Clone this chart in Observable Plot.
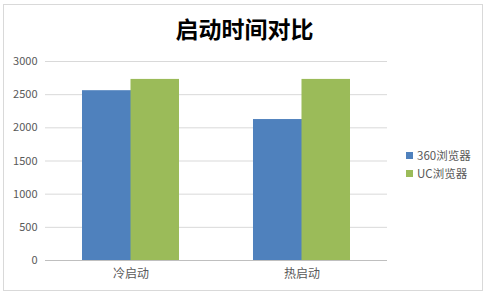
<!DOCTYPE html>
<html><head><meta charset="utf-8">
<script src="https://cdn.jsdelivr.net/npm/d3@7"></script>
<script src="https://cdn.jsdelivr.net/npm/@observablehq/plot@0.6"></script>
<style>
body{margin:0;background:#fff;}
#wrap{position:relative;width:489px;height:298px;font-family:"Noto Sans CJK SC","Noto Sans",sans-serif;}
#frame{position:absolute;left:3px;top:4px;width:480px;height:287px;border:1px solid #d9d9d9;box-sizing:border-box;}
#title{position:absolute;left:0;width:489px;top:11px;text-align:center;font-size:23px;font-weight:bold;color:#000;line-height:34px;}
#chart{position:absolute;left:0;top:0;}
#legend{position:absolute;left:406px;top:146px;font-size:11.5px;color:#595959;}
.li{display:flex;align-items:center;height:18px;}
.sw{width:7px;height:7px;margin-right:4px;}
</style></head>
<body>
<div id="wrap">
<div id="frame"></div>
<div id="title">启动时间对比</div>
<div id="chart"></div>
<div id="legend"></div>
</div>
<script>
const categories = ["冷启动", "热启动"];
const seriesNames = ["360浏览器", "UC浏览器"];
const values360 = [2560, 2125];
const valuesUC = [2730, 2730];
const yTicks = [0, 500, 1000, 1500, 2000, 2500, 3000];
const colors = ["#4f81bd", "#9bbb59"];

const data = [];
categories.forEach((c, i) => {
  data.push({cat: c, series: seriesNames[0], value: values360[i]});
  data.push({cat: c, series: seriesNames[1], value: valuesUC[i]});
});

const plot = Plot.plot({
  width: 489,
  height: 298,
  marginLeft: 45,
  marginRight: 102,
  marginTop: 61,
  marginBottom: 38,
  style: {fontFamily: '"Noto Sans CJK SC","Noto Sans",sans-serif', background: "transparent", color: "#595959"},
  x: {domain: categories, paddingInner: 0.4327, paddingOuter: 0.2164, round: false, label: null},
  y: {domain: [0, 3000], label: null},
  color: {domain: seriesNames, range: colors},
  marks: [
    Plot.ruleY(yTicks.filter(d => d > 0), {stroke: "#d9d9d9", strokeWidth: 1}),
    Plot.barY(data.filter(d => d.series === seriesNames[0]), {x: "cat", y: "value", fill: "series", insetRight: 48}),
    Plot.barY(data.filter(d => d.series === seriesNames[1]), {x: "cat", y: "value", fill: "series", insetLeft: 48.5}),
    Plot.ruleY([0], {stroke: "#bfbfbf", strokeWidth: 1}),
    Plot.axisY({ticks: yTicks, tickFormat: d => String(d), tickSize: 0, tickPadding: 8, fontSize: 11, fill: "#595959", label: null}),
    Plot.axisX({tickSize: 0, tickPadding: 9, fontSize: 12, fill: "#595959", label: null})
  ]
});
document.getElementById("chart").appendChild(plot);

const leg = document.getElementById("legend");
seriesNames.forEach((s, i) => {
  const row = document.createElement("div");
  row.className = "li";
  row.innerHTML = `<span class="sw" style="background:${colors[i]}"></span><span>${s}</span>`;
  leg.appendChild(row);
});
</script>
</body></html>
